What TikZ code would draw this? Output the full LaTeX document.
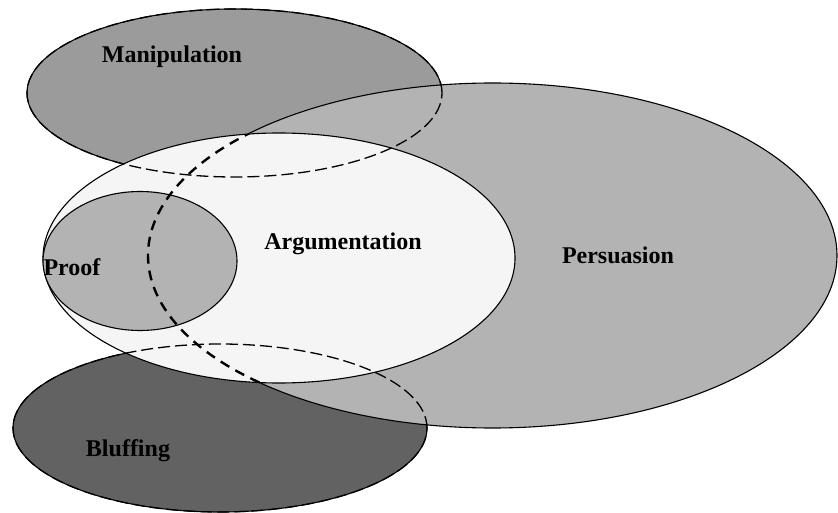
\documentclass[tikz,border=0pt]{standalone}
\usepackage{fontspec}
\setmainfont{Liberation Serif}
\definecolor{manipgray}{HTML}{9B9B9B}
\definecolor{persgray}{HTML}{B3B3B3}
\definecolor{arggray}{HTML}{F5F5F5}
\definecolor{bluffgray}{HTML}{626262}
\tikzset{
  setline/.style={draw=black, line width=1.1pt},
  hiddenline/.style={draw=black, line width=1.3pt, dash pattern=on 12pt off 5pt},
  hiddenthick/.style={draw=black, line width=2.4pt, dash pattern=on 10pt off 7pt},
  setlabel/.style={anchor=base, inner sep=0pt, font=\fontsize{24}{28}\selectfont\bfseries}
}

\begin{document}
\begin{tikzpicture}[x=1pt, y=-1pt]
  \useasboundingbox (0,0) rectangle (838,513);
  % sets, back to front
  \filldraw[fill=manipgray, setline] (234.5,93) ellipse [x radius=207.5pt, y radius=84pt];
  \filldraw[fill=bluffgray, setline] (220,428) ellipse [x radius=207pt, y radius=84pt];
  \filldraw[fill=persgray, setline] (492.5,255.5) ellipse [x radius=344.5pt, y radius=172.5pt];
  \filldraw[fill=arggray, setline] (279,258) ellipse [x radius=236pt, y radius=125pt];
  \filldraw[fill=persgray, setline] (140,261) ellipse [x radius=97pt, y radius=69.5pt];
  % hidden outlines
  \draw[hiddenline] (234.5,93) ellipse [x radius=207.5pt, y radius=84pt];
  \draw[hiddenline] (220,428) ellipse [x radius=207pt, y radius=84pt];
  \begin{scope}
    \clip (279,258) ellipse [x radius=236pt, y radius=125pt];
    \draw[hiddenthick] (492.5,255.5) ellipse [x radius=344.5pt, y radius=172.5pt];
  \end{scope}
  % labels
  \node[setlabel] (manipulation) at (172,63) {Manipulation};
  \node[setlabel] (argumentation) at (343,249) {Argumentation};
  \node[setlabel] (persuasion) at (618,263) {Persuasion};
  \node[setlabel] (proof) at (72,275) {Proof};
  \node[setlabel] (bluffing) at (128,456) {Bluffing};
\end{tikzpicture}
\end{document}
